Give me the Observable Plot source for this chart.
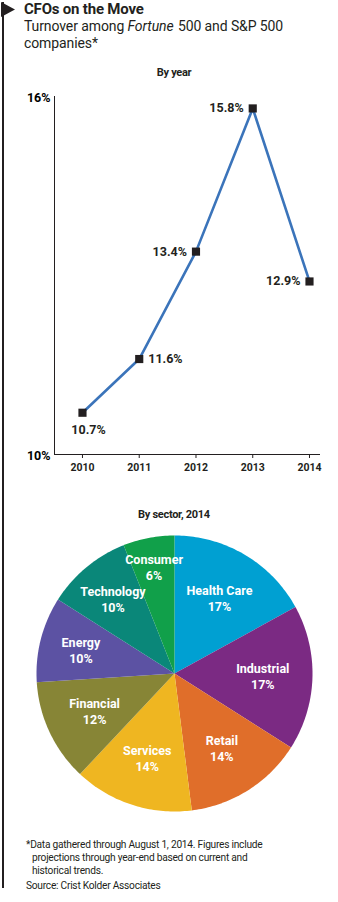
<!DOCTYPE html>
<html>
<head>
<meta charset="utf-8">
<script src="https://cdn.jsdelivr.net/npm/d3@7"></script>
<script src="https://cdn.jsdelivr.net/npm/@observablehq/plot@0.6"></script>
<style>
  html, body { margin: 0; padding: 0; background: #fff; }
  body { width: 338px; height: 902px; position: relative; overflow: hidden; font-family: Roboto, "Noto Sans", sans-serif; color: #231f20; }
  .abs { position: absolute; }
  #bar { left: 2px; top: 2px; width: 2px; height: 886px; background: #231f20; }
  #tri { left: 1px; top: 2px; }
  #title { left: 24px; top: 0px; font-size: 15px; line-height: 18px; font-weight: 700; letter-spacing: -0.2px; }
  #subtitle { left: 24px; top: 18px; width: 310px; font-size: 14px; line-height: 17px; letter-spacing: -0.1px; white-space: nowrap; }
  #subtitle i { padding-right: 1px; }
  .hed { left: 0; width: 348px; text-align: center; font-size: 11px; line-height: 14px; font-weight: 700; letter-spacing: -0.3px; }
  #note { left: 26px; top: 838px; width: 262px; font-size: 10.2px; line-height: 13px; letter-spacing: -0.25px; }
  #note .fn { padding-left: 6px; text-indent: -6px; }
  #src { margin-top: 2px; }
  svg text { font-family: Roboto, sans-serif; }
</style>
</head>
<body>
<div id="bar" class="abs"></div>
<svg id="tri" class="abs" width="16" height="18"><polygon points="0,0 14,7.5 0,15" fill="#231f20"/></svg>
<div id="title" class="abs">CFOs on the Move</div>
<div id="subtitle" class="abs"><span>Turnover among <i>Fortune</i> 500 and S&amp;P 500</span><br><span>companies*</span></div>
<div id="h1" class="abs hed" style="top:66px">By year</div>
<div id="line" class="abs" style="left:0;top:85px"></div>
<div id="h2" class="abs hed" style="top:508px">By sector, 2014</div>
<div id="pie" class="abs" style="left:0;top:525px"></div>
<div id="note" class="abs">
  <div class="fn">*Data gathered through August 1, 2014. Figures include projections through year-end based on current and historical trends.</div>
  <div id="src">Source: Crist Kolder Associates</div>
</div>
<script>
// ---- data ----
const years = [2010, 2011, 2012, 2013, 2014];
const turnover = [10.7, 11.6, 13.4, 15.8, 12.9];
const yTicks = [10, 16];

const sectors = ["Health Care", "Industrial", "Retail", "Services", "Financial", "Energy", "Technology", "Consumer"];
const shares = [17, 17, 14, 14, 12, 10, 10, 6];
const sectorColors = ["#00a0d2", "#7b2a83", "#e06e2a", "#efb621", "#878536", "#5c52a3", "#0a8779", "#11a04a"];

// ---- line chart ----
const yearData = years.map((y, i) => ({year: y, value: turnover[i], i}));
const ink = "#231f20";
const x0 = 2009.507;
// label placement rules (by point index)
const lab = [
  {dx: 6, dy: 17, anchor: "middle"},
  {dx: 9, dy: 0, anchor: "start"},
  {dx: -9, dy: 0, anchor: "end"},
  {dx: -9, dy: 0, anchor: "end"},
  {dx: -9, dy: 0, anchor: "end"}
];
const lineChart = Plot.plot({
  width: 338, height: 395,
  marginLeft: 54, marginRight: 18, marginTop: 11, marginBottom: 26,
  x: {type: "linear", domain: [x0, 2014.194], axis: null},
  y: {type: "linear", domain: [10, 16], axis: null},
  marks: [
    Plot.ruleY([10], {x1: x0, x2: 2014.194, stroke: ink, strokeWidth: 1}),
    Plot.ruleX([x0], {y1: 10, y2: 16, stroke: ink, strokeWidth: 1}),
    Plot.ruleX(years, {x: d => d, y1: 10, y2: 10, insetBottom: -4, stroke: ink, strokeWidth: 1}),
    Plot.text(years, {x: d => d, y: 10, text: d => String(d), dy: 13, fontWeight: 700, fontSize: 10.5, fill: ink, letterSpacing: "-0.2px"}),
    Plot.text(yTicks, {x: x0, y: d => d, text: d => d + "%", dx: -4, dy: 1, textAnchor: "end", fontWeight: 700, fontSize: 12.5, fill: "#000", letterSpacing: "-0.7px"}),
    Plot.line(yearData, {x: "year", y: "value", stroke: "#3b74ba", strokeWidth: 2.6}),
    Plot.dot(yearData, {x: "year", y: "value", symbol: "square", r: 4.6, fill: ink, stroke: "none"}),
    ...lab.map((l, k) => Plot.text(yearData.filter(d => d.i === k), {
      x: "year", y: "value", text: d => d.value.toFixed(1) + "%",
      dx: l.dx, dy: l.dy, textAnchor: l.anchor, fontWeight: 700, fontSize: 12.5, fill: ink, letterSpacing: "-0.1px"
    }))
  ]
});
document.getElementById("line").append(lineChart);

// ---- pie chart ----
const total = d3.sum(shares);
const slicePts = [];
const labels = [];
let acc = 0;
shares.forEach((s, i) => {
  const a0 = acc / total * 2 * Math.PI;
  acc += s;
  const a1 = acc / total * 2 * Math.PI;
  const n = Math.max(2, Math.ceil((a1 - a0) / (Math.PI / 180)));
  slicePts.push({sector: sectors[i], px: 0, py: 0});
  for (let k = 0; k <= n; k++) {
    const a = a0 + (a1 - a0) * k / n;
    slicePts.push({sector: sectors[i], px: Math.sin(a), py: Math.cos(a)});
  }
  slicePts.push({sector: sectors[i], px: 0, py: 0});
  const am = (a0 + a1) / 2;
  const rl = s < 8 ? 0.79 : s <= 10 ? 0.70 : 0.64;
  labels.push({sector: sectors[i], share: s, lx: rl * Math.sin(am), ly: rl * Math.cos(am)});
});
const pie = Plot.plot({
  width: 338, height: 296,
  marginLeft: 36, marginRight: 26, marginTop: 10, marginBottom: 10,
  x: {domain: [-1, 1], axis: null},
  y: {domain: [-1, 1], axis: null},
  color: {domain: sectors, range: sectorColors},
  marks: [
    Plot.line(slicePts, {x: "px", y: "py", z: "sector", fill: "sector", stroke: "none", curve: "linear"}),
    Plot.text(labels, {x: "lx", y: "ly", text: d => d.sector + "\n" + d.share + "%", fill: "white", fontWeight: 700, fontSize: 12.5, lineHeight: 1.28, letterSpacing: "-0.2px"})
  ]
});
document.getElementById("pie").append(pie);
</script>
</body>
</html>
